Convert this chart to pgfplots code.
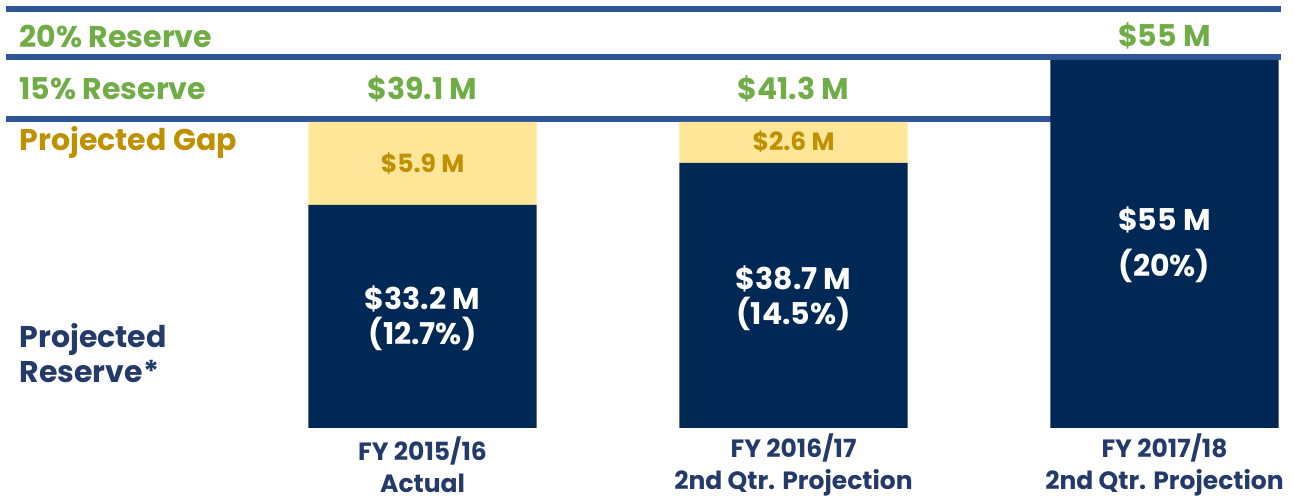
\documentclass[border=0pt]{standalone}
\usepackage{fontspec}
\setmainfont{Poppins}
\usepackage{pgfplots}
\pgfplotsset{compat=1.18}
\definecolor{cNavy}{HTML}{002855}
\definecolor{cLine}{HTML}{2E5597}
\definecolor{cGreen}{HTML}{70AD47}
\definecolor{cGap}{HTML}{FFE699}
\definecolor{cGapTxt}{HTML}{BF9000}
\definecolor{cLabel}{HTML}{243A6B}
\newcommand{\bigfont}{\fontsize{15}{17.5}\selectfont\bfseries}
\newcommand{\midfont}{\fontsize{12.5}{16}\selectfont\bfseries}
\newcommand{\smallfont}{\fontsize{12.5}{16}\selectfont\bfseries}

\begin{document}
\begin{tikzpicture}
% 1 px of the reference = 0.5pt; y value = 428 - pixel row
\begin{axis}[
  scale only axis, width=647pt, height=251pt,
  xmin=-0.139, xmax=3.349, ymin=-74, ymax=428,
  hide axis, clip=false,
  ybar stacked, bar width=0.615,
]
% projected reserve (display heights)
\addplot[fill=cNavy, draw=none] coordinates {(1,223) (2,265) (3,368)};
% projected gap
\addplot[fill=cGap, draw=none] coordinates {(1,83) (2,41) (3,0)};

% reserve level lines
\draw[cLine, line width=3pt] (axis cs:-0.1226,418.5) -- (axis cs:3.315,418.5);
\draw[cLine, line width=3pt] (axis cs:-0.1226,371) -- (axis cs:3.315,371);
\draw[cLine, line width=3pt] (axis cs:-0.1226,309) -- (axis cs:2.70,309);

% row labels
\node[anchor=west, text=cGreen, font=\bigfont] at (axis cs:-0.105,392) {20\% Reserve};
\node[anchor=west, text=cGreen, font=\bigfont] at (axis cs:-0.105,339) {15\% Reserve};
\node[anchor=west, text=cGapTxt, font=\bigfont] at (axis cs:-0.105,286) {Projected Gap};
\node[anchor=west, text=cLabel, font=\bigfont, align=left] at (axis cs:-0.105,75) {Projected\\Reserve*};

% reserve targets
\node[text=cGreen, font=\bigfont] at (axis cs:1,339) {\$39.1 M};
\node[text=cGreen, font=\bigfont] at (axis cs:2,339) {\$41.3 M};
\node[text=cGreen, font=\bigfont] at (axis cs:3,392) {\$55 M};

% anchors for labels that sit on the bars
\coordinate (g1) at (axis cs:1,264);
\coordinate (g2) at (axis cs:2,286);
\coordinate (r1) at (axis cs:1,110);
\coordinate (r2) at (axis cs:2,130);
\coordinate (r3) at (axis cs:3,183);
\coordinate (bl) at (rel axis cs:0,0);
\coordinate (tr) at (rel axis cs:1,1);

% categories
\node[text=cLabel, font=\smallfont, align=center] at (axis cs:1,-37) {FY 2015/16\\Actual};
\node[text=cLabel, font=\smallfont, align=center] at (axis cs:2,-37) {FY 2016/17\\2nd Qtr. Projection};
\node[text=cLabel, font=\smallfont, align=center] at (axis cs:3,-37) {FY 2017/18\\2nd Qtr. Projection};
\end{axis}

% gap values
\node[text=cGapTxt, font=\midfont] at (g1) {\$5.9 M};
\node[text=cGapTxt, font=\midfont] at (g2) {\$2.6 M};
% reserve values
\node[text=white, font=\bigfont, align=center] at (r1) {\$33.2 M\\(12.7\%)};
\node[text=white, font=\bigfont, align=center] at (r2) {\$38.7 M\\(14.5\%)};
\node[text=white, font=\fontsize{15}{23}\selectfont\bfseries, align=center] at (r3) {\$55 M\\(20\%)};

\pgfresetboundingbox
\path[use as bounding box] (bl) rectangle (tr);
\end{tikzpicture}
\end{document}
